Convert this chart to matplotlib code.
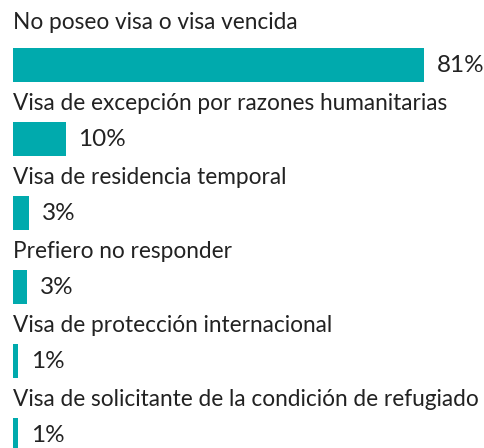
import matplotlib
matplotlib.use("Agg")
import matplotlib.pyplot as plt

categories = [
    "No poseo visa o visa vencida",
    "Visa de excepción por razones humanitarias",
    "Visa de residencia temporal",
    "Prefiero no responder",
    "Visa de protección internacional",
    "Visa de solicitante de la condición de refugiado",
]
values = [81.0, 10.4, 3.2, 2.8, 1.0, 1.0]
value_labels = ["81%", "10%", "3%", "3%", "1%", "1%"]

bar_color = "#00AAAD"
text_color = "#222222"
font = ["Lato", "DejaVu Sans"]

fig = plt.figure(figsize=(4.84, 4.48), dpi=100)
ax = fig.add_axes([0, 0, 1, 1])

# pixel-like layout: rows every 74 px, bar 34 px tall
row_step = 74
bar_h = 34
first_top = 48
px_per_unit = 411 / 81.0
left_px = 13

centers = [first_top + bar_h / 2 + i * row_step for i in range(len(values))]
ax.barh(centers, values, height=bar_h, color=bar_color, left=0)

for i, (cat, val, lab) in enumerate(zip(categories, values, value_labels)):
    top = centers[i] - bar_h / 2
    gap = 19 if i == 0 else 12
    ax.text(0, top - gap, cat, ha="left", va="baseline", fontsize=16.3,
            color=text_color, family=font)
    ax.annotate(lab, xy=(val, centers[i]), xytext=(9, 0), textcoords="offset points",
                ha="left", va="center", fontsize=17.5, color=text_color, family=font)

ax.set_xlim(-left_px / px_per_unit, (484 - left_px) / px_per_unit)
ax.set_ylim(448, 0)
ax.axis("off")

fig.savefig("out.png", dpi=100)
